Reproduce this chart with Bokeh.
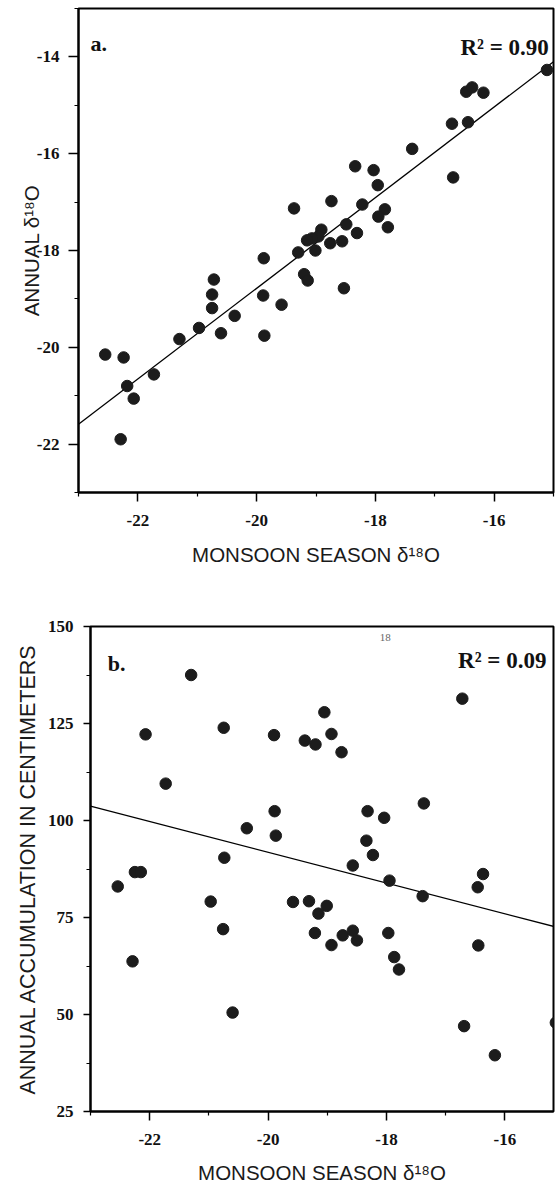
from bokeh.plotting import figure
from bokeh.layouts import column
from bokeh.models import Range1d, FixedTicker, Label, CustomJSTickFormatter
from bokeh.embed import file_html
from bokeh.resources import INLINE

# ---------------- data: panel a ----------------
a_monsoon = [-15.11, -16.47, -16.37, -16.18, -16.71, -16.44, -17.38, -16.69,
             -18.34, -18.03, -17.96, -18.22, -18.74, -19.37, -17.84, -17.95,
             -17.79, -18.49, -18.31, -18.91, -18.96, -19.07, -19.15, -18.76,
             -18.56, -19.01, -19.30, -19.88, -19.20, -19.14, -18.53, -20.72,
             -20.75, -19.89, -20.75, -19.58, -20.37, -20.97, -21.30, -20.60,
             -19.87, -22.55, -22.24, -21.73, -22.18, -22.07, -22.29]
a_annual = [-14.27, -14.72, -14.63, -14.74, -15.38, -15.35, -15.90, -16.49,
            -16.26, -16.34, -16.65, -17.05, -16.98, -17.13, -17.15, -17.30,
            -17.52, -17.46, -17.64, -17.57, -17.71, -17.75, -17.79, -17.85,
            -17.81, -18.00, -18.04, -18.16, -18.49, -18.62, -18.78, -18.60,
            -18.91, -18.93, -19.19, -19.12, -19.35, -19.60, -19.83, -19.71,
            -19.76, -20.15, -20.21, -20.56, -20.80, -21.06, -21.90]
a_fit_x = [-23.0, -15.0]
a_fit_y = [-21.59, -14.10]
a_r2_text = "R\u00b2 = 0.90"
a_tag = "a."

# ---------------- data: panel b ----------------
b_monsoon = [-21.30, -22.07, -20.75, -21.73, -19.90, -19.38, -19.20, -19.05,
             -18.93, -18.76, -16.72, -19.89, -19.87, -20.36, -20.74, -18.32,
             -18.04, -17.37, -18.34, -18.23, -18.57, -17.95, -16.37, -16.46,
             -22.25, -22.15, -22.54, -20.97, -20.76, -22.29, -20.60, -19.58,
             -19.31, -19.01, -19.15, -19.21, -18.93, -18.74, -18.57, -18.50,
             -17.97, -17.87, -17.79, -17.39, -16.45, -16.69, -16.17, -15.14]
b_accum = [137.5, 122.2, 123.9, 109.5, 122.0, 120.6, 119.6, 127.9,
           122.3, 117.6, 131.4, 102.4, 96.1, 98.0, 90.4, 102.4,
           100.7, 104.4, 94.8, 91.1, 88.4, 84.5, 86.2, 82.8,
           86.7, 86.7, 83.0, 79.1, 72.0, 63.7, 50.5, 79.0,
           79.2, 78.0, 76.0, 71.0, 67.9, 70.4, 71.6, 69.1,
           71.0, 64.8, 61.6, 80.5, 67.8, 47.0, 39.5, 47.9]
b_fit_x = [-23.0, -15.0]
b_fit_y = [103.7, 72.0]
b_r2_text = "R\u00b2 = 0.09"
b_tag = "b."
b_stray = "18"

# ---------------- ticks ----------------
x_major = [-22, -20, -18, -16]
x_minor = [-23, -21, -19, -17, -15]
x_labels = ["-22", "-20", "-18", "-16"]
a_y_major = [-22, -20, -18, -16, -14]
a_y_minor = [-23, -21, -19, -17, -15, -13]
a_y_labels = ["-22", "-20", "-18", "-16", "-14"]
b_y_major = [25, 50, 75, 100, 125, 150]
b_y_minor = [37.5, 62.5, 87.5, 112.5, 137.5]
b_y_labels = ["25", "50", "75", "100", "125", "150"]

x_title = "MONSOON SEASON \u03b4\u00b9\u2078O"
a_y_title = "ANNUAL \u03b4\u00b9\u2078O"
b_y_title = "ANNUAL ACCUMULATION IN CENTIMETERS"

SANS = "Liberation Sans"
SERIF = "Liberation Serif"
DOT = "#1c1c1c"

FMT_CODE = """
for (let i = 0; i < ticks_v.length; i++) {
    if (Math.abs(ticks_v[i] - tick) < 1e-6) { return labels_v[i]; }
}
return "";
"""


def fmt(ticks, labels):
    return CustomJSTickFormatter(args=dict(ticks_v=ticks, labels_v=labels), code=FMT_CODE)


def style_axis(ax, ticks, minor, labels, tick_out, standoff, title, title_size, title_standoff):
    ax.ticker = FixedTicker(ticks=ticks, minor_ticks=minor)
    ax.formatter = fmt(ticks, labels)
    ax.axis_line_width = 2
    ax.axis_line_color = "black"
    ax.major_tick_line_width = 1.5
    ax.minor_tick_line_width = 1.2
    ax.major_tick_in = 0
    ax.minor_tick_in = 0
    ax.major_tick_out = tick_out
    ax.minor_tick_out = 4
    ax.major_label_text_font = SERIF
    ax.major_label_text_font_style = "bold"
    ax.major_label_text_font_size = "17px"
    ax.major_label_text_color = "#111111"
    ax.major_label_standoff = standoff
    ax.axis_label = title
    ax.axis_label_text_font = SANS
    ax.axis_label_text_font_style = "normal"
    ax.axis_label_text_font_size = title_size
    ax.axis_label_text_color = "#1a1a1a"
    ax.axis_label_standoff = title_standoff


def base(p):
    p.xgrid.visible = False
    p.ygrid.visible = False
    p.outline_line_color = "black"
    p.outline_line_width = 2
    p.background_fill_color = "white"
    p.border_fill_color = "white"


# ---------------- panel a ----------------
pa = figure(width=556, height=606, output_backend="svg", toolbar_location=None,
            x_range=Range1d(-23, -15), y_range=Range1d(-23, -13),
            min_border_left=78, min_border_right=3, min_border_top=8,
            min_border_bottom=114)
base(pa)
style_axis(pa.xaxis[0], x_major, x_minor, x_labels, 9, 13, x_title, "20.5px", 14)
style_axis(pa.yaxis[0], a_y_major, a_y_minor, a_y_labels, 10, 9, a_y_title, "20.5px", -9)
pa.line(a_fit_x, a_fit_y, line_color="black", line_width=1.3)
pa.scatter(a_monsoon, a_annual, size=11.5, fill_color=DOT, line_color=DOT)
pa.add_layout(Label(x=-22.8, y=-13.72, text=a_tag, text_font=SERIF,
                    text_font_style="bold", text_font_size="22px",
                    text_baseline="alphabetic", text_color="#111111"))
pa.add_layout(Label(x=-15.08, y=-13.8, text=a_r2_text, text_font=SERIF,
                    text_font_style="bold", text_font_size="23px",
                    text_align="right", text_baseline="alphabetic",
                    text_color="#111111"))

# ---------------- panel b (shifted right by a 12px margin) ----------------
pb = figure(width=544, height=583, output_backend="svg", toolbar_location=None,
            x_range=Range1d(-23, -15.18), y_range=Range1d(25, 150),
            min_border_left=78, min_border_right=3, min_border_top=20,
            min_border_bottom=78, margin=(0, 0, 0, 12))
base(pb)
style_axis(pb.xaxis[0], x_major, x_minor, x_labels, 9, 13, x_title, "20.5px", 13)
style_axis(pb.yaxis[0], b_y_major, b_y_minor, b_y_labels, 7, 10, b_y_title, "21.5px", 5)
pb.line(b_fit_x, b_fit_y, line_color="black", line_width=1.3)
pb.scatter(b_monsoon, b_accum, size=11.5, fill_color=DOT, line_color=DOT)
pb.add_layout(Label(x=-22.71, y=140.5, text=b_tag, text_font=SERIF,
                    text_font_style="bold", text_font_size="22px",
                    text_baseline="alphabetic", text_color="#111111"))
pb.add_layout(Label(x=-15.3, y=141.2, text=b_r2_text, text_font=SERIF,
                    text_font_style="bold", text_font_size="23px",
                    text_align="right", text_baseline="alphabetic",
                    text_color="#111111"))
pb.add_layout(Label(x=-18.02, y=147.2, text=b_stray, text_font=SERIF,
                    text_font_size="11px", text_align="center",
                    text_baseline="alphabetic", text_color="#666666"))

layout = column(pa, pb, spacing=0)
open("out.html", "w").write(file_html(layout, INLINE))
